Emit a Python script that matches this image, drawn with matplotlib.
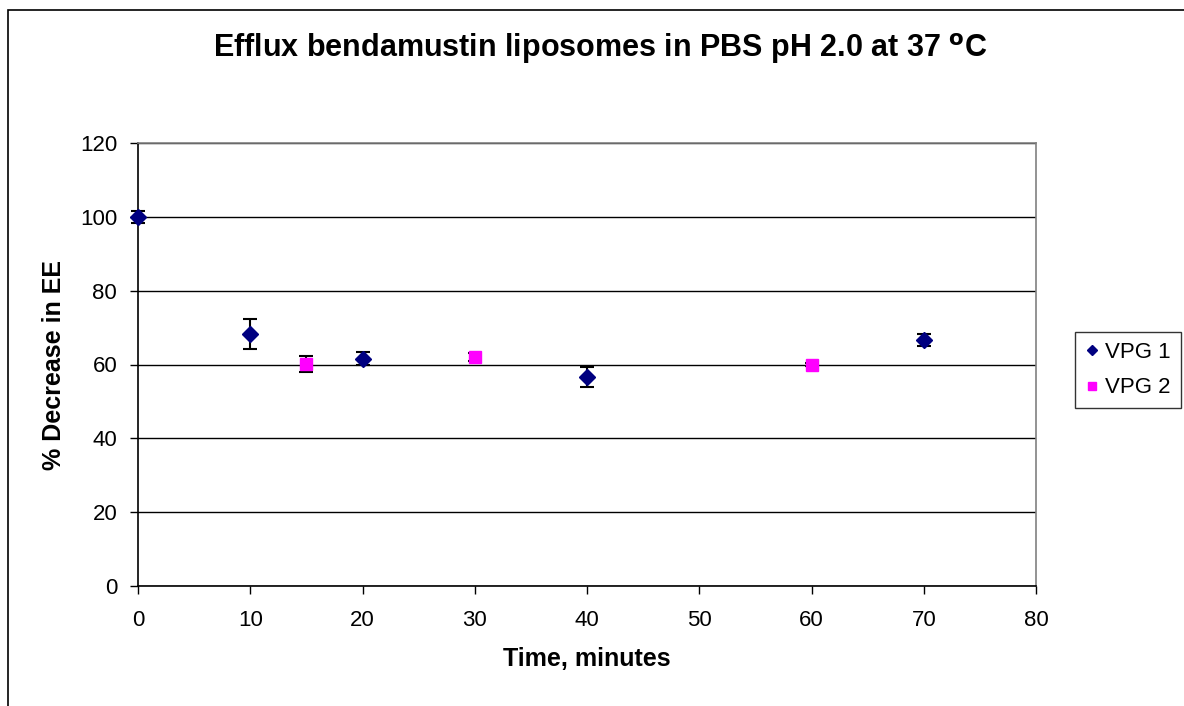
import matplotlib.pyplot as plt
from matplotlib.patches import Rectangle

plt.rcParams['font.family'] = ['Liberation Sans', 'DejaVu Sans']

# data
t1 = [0, 10, 20, 40, 70]
y1 = [100, 68.3, 61.6, 56.5, 66.6]
e1 = [1.6, 4.0, 1.8, 2.7, 1.6]

t2 = [15, 30, 60]
y2 = [60.2, 62.0, 60.0]
e2 = [2.2, 1.0, 0.5]

fig = plt.figure(figsize=(11.84, 7.06), dpi=100)
ax = fig.add_axes([138/1184, 1 - 586/706, (1036 - 138)/1184, (586 - 143)/706])

# outer chart border (runs off the right and bottom edge)
fig.patches.append(Rectangle((8/1184, -0.1), 1.2, 1 - 10/706 + 0.1,
                             transform=fig.transFigure, fill=False,
                             edgecolor='black', linewidth=1.2))

ax.errorbar(t1, y1, yerr=e1, fmt='D', color='#000080', markersize=8,
            ecolor='black', elinewidth=1.5, capsize=5, capthick=1.5,
            label='VPG 1', clip_on=False, zorder=3)
ax.errorbar(t2, y2, yerr=e2, fmt='s', color='#FF00FF', markersize=8,
            ecolor='black', elinewidth=1.5, capsize=5, capthick=1.5,
            label='VPG 2', clip_on=False, zorder=3)

ax.set_xlim(0, 80)
ax.set_ylim(0, 120)
ax.set_xticks(range(0, 81, 10))
ax.set_yticks(range(0, 121, 20))
ax.yaxis.grid(True, color='black', linewidth=1)
ax.set_axisbelow(True)

for s in ['left', 'bottom']:
    ax.spines[s].set_color('black')
    ax.spines[s].set_linewidth(1.2)
for s in ['top', 'right']:
    ax.spines[s].set_color('#808080')
    ax.spines[s].set_linewidth(1.2)

ax.tick_params(axis='both', direction='out', length=6, width=1, labelsize=16)
ax.tick_params(axis='x', pad=11)
ax.tick_params(axis='y', pad=9)

ax.set_xlabel('Time, minutes', fontsize=18, fontweight='bold', labelpad=12)
ax.set_ylabel('% Decrease in EE', fontsize=18, fontweight='bold', labelpad=10)
fig.text(0.507, 1 - 49/706, r'Efflux bendamustin liposomes in PBS pH 2.0 at 37 $^{\mathbf{o}}$C',
         ha='center', va='center', fontsize=22, fontweight='bold')

h, l = ax.get_legend_handles_labels()
h = [x[0] for x in h]
leg = fig.legend(h, l, loc='upper left', bbox_to_anchor=(1075/1184, 1 - 332/706),
                 borderaxespad=0, fontsize=16, frameon=True, fancybox=False,
                 handlelength=0.6, handletextpad=0.3, markerscale=0.7,
                 borderpad=0.45, labelspacing=0.65)
leg.get_frame().set_edgecolor('black')
leg.get_frame().set_linewidth(1)

fig.savefig('out.png', dpi=100)
